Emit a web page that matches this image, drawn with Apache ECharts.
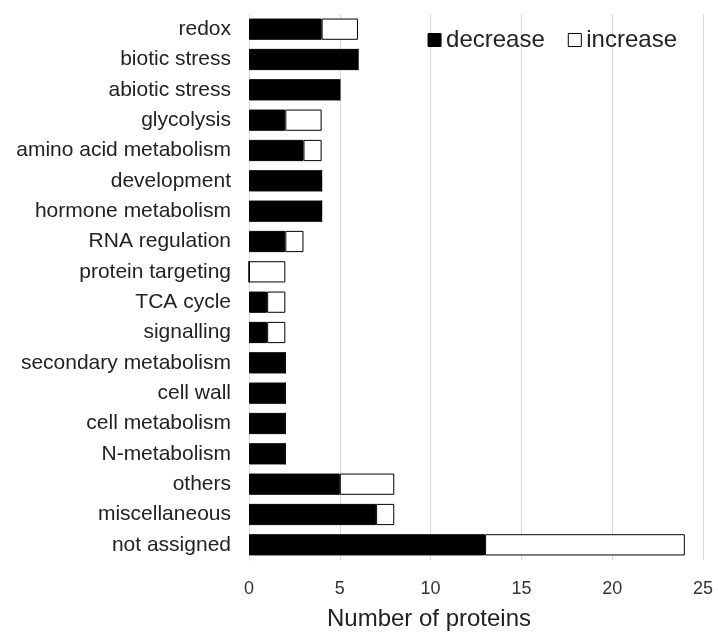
<!DOCTYPE html>
<html><head><meta charset="utf-8">
<script src="https://cdn.jsdelivr.net/npm/echarts@6/dist/echarts.min.js"></script>
<style>html,body{margin:0;padding:0;background:#fff}#c{width:718px;height:632px}</style>
</head><body><div id="c"></div>
<script>
const categories = ["redox","biotic stress","abiotic stress","glycolysis","amino acid metabolism","development","hormone metabolism","RNA regulation","protein targeting","TCA cycle","signalling","secondary metabolism","cell wall","cell metabolism","N-metabolism","others","miscellaneous","not assigned"];
const decrease = [4,6,5,2,3,4,4,2,0,1,1,2,2,2,2,5,7,13];
const increase = [2,0,0,2,1,0,0,1,2,1,1,0,0,0,0,3,1,11];
const xTicks = [0,5,10,15,20,25];
const xAxisTitle = 'Number of proteins';

const chart = echarts.init(document.getElementById('c'));
const font = 'Liberation Sans, Arial, sans-serif';
chart.setOption({
  animation:false,
  textStyle:{fontFamily:font},
  legend:{
    top:23, right:36, itemWidth:13, itemHeight:13, itemGap:23,
    textStyle:{fontSize:24,color:'#222',fontFamily:font},
    data:[{name:'decrease',icon:'rect',itemStyle:{color:'#000',borderColor:'#000',borderWidth:1}},{name:'increase',icon:'rect',itemStyle:{color:'#fff',borderColor:'#000',borderWidth:1}}]
  },
  grid:{left:249,right:15,top:14,bottom:72,containLabel:false},
  xAxis:{
    type:'value', min:xTicks[0], max:xTicks[xTicks.length-1], interval:5,
    axisLine:{show:false}, axisTick:{show:false},
    splitLine:{show:true,lineStyle:{color:'#d9d9d9',width:1}},
    axisLabel:{fontSize:18,color:'#333',margin:20,fontFamily:font}
  },
  yAxis:{
    type:'category', data:categories, inverse:true,
    axisLine:{show:true,lineStyle:{color:'#d9d9d9'}}, axisTick:{show:false},
    axisLabel:{fontSize:21,color:'#222',margin:18,fontFamily:font,padding:[3,0,0,0]}
  },
  graphic:[{
    type:'text', x:429, y:619,
    style:{text:xAxisTitle, font:'24px Liberation Sans, Arial, sans-serif', fill:'#222', textAlign:'center', textVerticalAlign:'middle', verticalAlign:'middle', align:'center'}
  }],
  series:[
    {name:'decrease',type:'bar',stack:'s',data:decrease,barCategoryGap:'30%',itemStyle:{color:'#000',borderColor:'#000',borderWidth:1}},
    {name:'increase',type:'bar',stack:'s',data:increase,barCategoryGap:'30%',itemStyle:{color:'#fff',borderColor:'#000',borderWidth:1}}
  ]
});
</script></body></html>
